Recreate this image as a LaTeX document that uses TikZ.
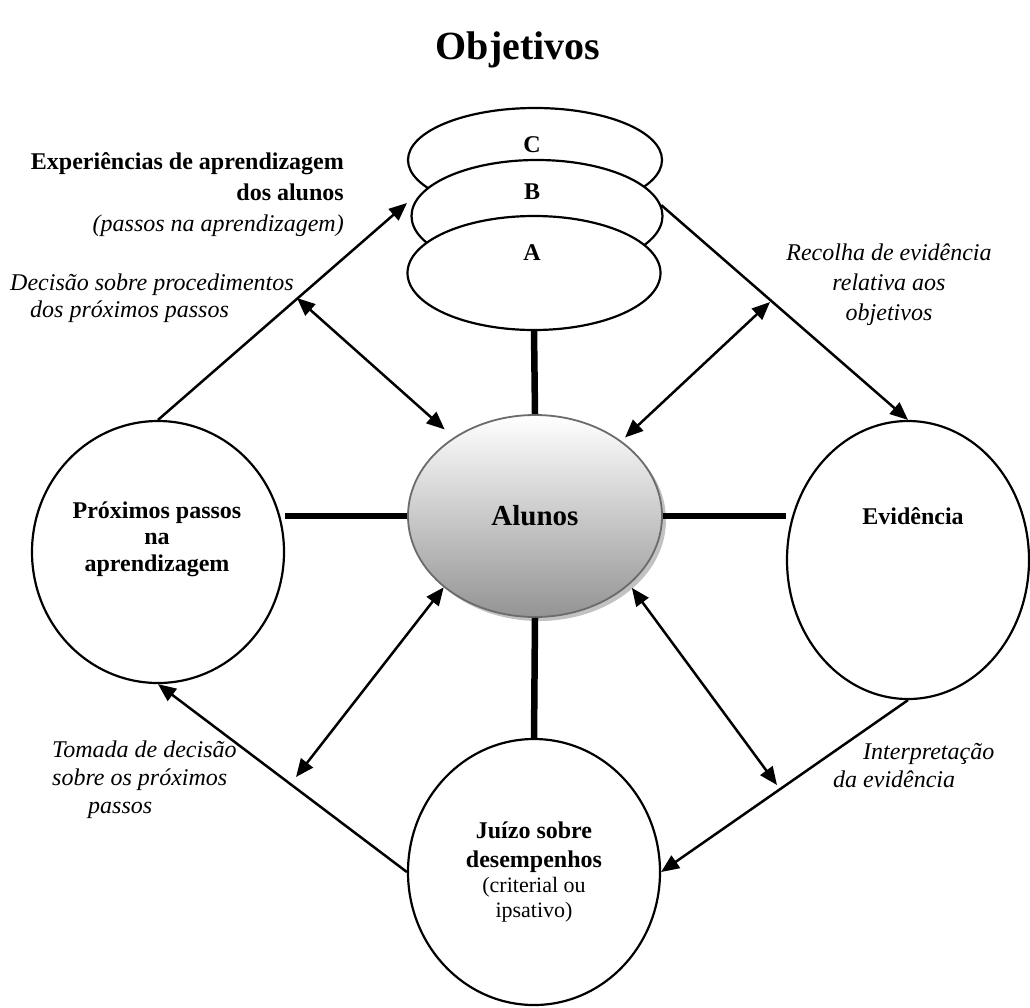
\documentclass[tikz,border=0pt]{standalone}
\usepackage{fontspec}
\setmainfont{Liberation Serif}
\usetikzlibrary{arrows.meta,shapes.geometric,shadows}
\begin{document}
\begin{tikzpicture}[x=1pt,y=-1pt,
  tipend/.style={-{Triangle[length=18pt,width=15pt]}},
  dbl/.style={{Triangle[length=18pt,width=15pt]}-{Triangle[length=18pt,width=15pt]}},
  conn/.style={line width=2.5pt},
  bar/.style={line width=6.5pt},
  layer/.style={ellipse, draw, fill=white, line width=2.2pt, inner sep=0pt},
  bigcirc/.style={ellipse, draw, fill=white, line width=2.2pt, inner sep=0pt},
  lbl/.style={font=\fontsize{24}{28}\selectfont\bfseries, inner sep=0pt},
  ital/.style={inner sep=0pt, font=\fontsize{24}{28}\selectfont\itshape}
]
\useasboundingbox (0,0) rectangle (1030,1007);

% title
\node[font=\fontsize{40}{48}\selectfont\bfseries, inner sep=0pt] (title) at (518,50) {Objetivos};

% stacked objectives
\node[layer, minimum width=254pt, minimum height=104pt] (C) at (535,160) {};
\node[layer, minimum width=251pt, minimum height=112pt] (B) at (537,216) {};
\node[layer, minimum width=253pt, minimum height=114pt] (A) at (534,273) {};
\node[lbl] (tC) at (532,145) {C};
\node[lbl] (tB) at (532,192) {B};
\node[lbl] (tA) at (532,253) {A};

% centre
\node[ellipse, draw=black!58, line width=1.8pt, top color=white, bottom color=black!42,
      minimum width=254pt, minimum height=202pt, inner sep=0pt,
      drop shadow={shadow xshift=4pt, shadow yshift=-4pt, fill=black!40, opacity=0.6},
      font=\fontsize{29}{34}\selectfont\bfseries] (Al) at (535,516) {Alunos};

% outer circles
\node[bigcirc, minimum width=252pt, minimum height=262pt] (P) at (158,552) {};
\node[bigcirc, minimum width=242pt, minimum height=278pt] (E) at (908,560) {};
\node[bigcirc, minimum width=252pt, minimum height=266pt, align=center,
      font=\fontsize{24}{25}\selectfont] (J) at (534,872)
  {\textbf{Juízo sobre}\\[4pt]\textbf{desempenhos}\\{\fontsize{22}{25}\selectfont (criterial ou}\\{\fontsize{22}{25}\selectfont ipsativo)}};

\node[lbl, align=center, font=\fontsize{24}{26.5}\selectfont\bfseries] (tP) at (157,539) {Próximos passos\\na\\aprendizagem};
\node[lbl] (tE) at (913,516) {Evidência};

% thick bars
\draw[bar] (A.south) -- (Al.north);
\draw[bar] (Al.south) -- (J.north);
\draw[bar] (P.east |- Al.west) -- (Al.west);
\draw[bar] (Al.east) -- (E.west |- Al.east);

% cycle arrows
\coordinate (tipB) at (407,203);
\draw[conn, tipend] (P.north) -- (tipB);
\draw[conn, tipend] (B.5) -- (E.north);
\draw[conn, tipend] (E.south) -- (J.east);
\draw[conn, tipend] (J.west) -- (P.south);

% double arrows
\coordinate (d1) at (297,298);
\coordinate (d2) at (770,302);
\coordinate (d3) at (296,777);
\coordinate (d4) at (777,785);
\draw[conn, dbl, shorten >=12pt] (d1) -- (Al.136);
\draw[conn, dbl, shorten >=5pt] (d2) -- (Al.41);
\draw[conn, dbl] (d3) -- (Al.218);
\draw[conn, dbl, shorten >=4pt] (d4) -- (Al.324);

% labels
\node[anchor=east, align=right, inner sep=0pt, font=\fontsize{24}{31}\selectfont] (exp) at (344,195)
  {\textbf{Experiências de aprendizagem}\\\textbf{dos alunos}\\\textit{(passos na aprendizagem)}};
\node[ital, anchor=west, align=left, font=\fontsize{24}{27}\selectfont\itshape] (dec) at (10,298)
  {Decisão sobre procedimentos\\\hspace*{20pt}dos próximos passos};
\node[ital, align=center, font=\fontsize{24}{30}\selectfont\itshape] (rec) at (889,285)
  {Recolha de evidência\\relativa aos\\objetivos};
\node[ital, anchor=west, align=left] (tom) at (52,780)
  {Tomada de decisão\\sobre os próximos\\\hspace*{36pt}passos};
\node[ital, anchor=west, align=left] (int) at (833,766)
  {\hspace*{30pt}Interpretação\\da evidência};
\end{tikzpicture}
\end{document}
